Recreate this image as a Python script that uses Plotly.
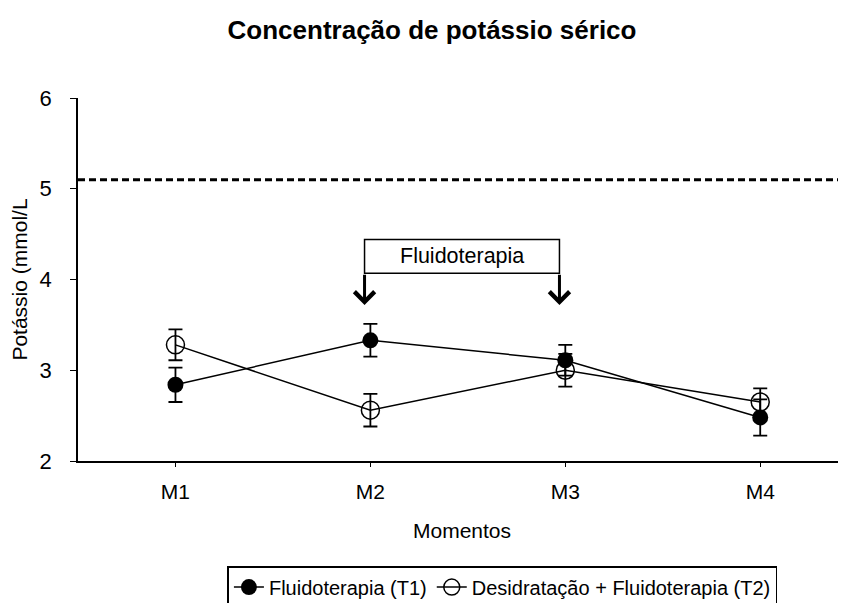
import plotly.graph_objects as go

momentos = ["M1", "M2", "M3", "M4"]

t1_mean = [2.84, 3.33, 3.11, 2.48]
t1_err = [0.19, 0.18, 0.17, 0.20]

t2_mean = [3.28, 2.56, 3.00, 2.65]
t2_err = [0.17, 0.18, 0.18, 0.15]

ref_upper = 5.1

font_ = "Liberation Sans, Arial, sans-serif"

fig = go.Figure()

fig.add_trace(go.Scatter(
    x=momentos, y=t1_mean, mode="lines+markers",
    name="Fluidoterapia (T1)",
    line=dict(color="black", width=1.5),
    marker=dict(symbol="circle", size=16, color="black"),
    error_y=dict(type="data", array=t1_err, color="black", thickness=1.8, width=7),
))

fig.add_trace(go.Scatter(
    x=momentos, y=t2_mean, mode="lines+markers",
    name="Desidratação + Fluidoterapia (T2)",
    line=dict(color="black", width=1.5),
    marker=dict(symbol="circle-open", size=18, color="black", line=dict(width=1.5)),
    error_y=dict(type="data", array=t2_err, color="black", thickness=1.8, width=7),
))

# linha de referencia
fig.add_shape(type="line", xref="paper", yref="y", x0=0, x1=1, y0=ref_upper, y1=ref_upper,
              line=dict(color="black", width=3, dash="7px,4px"))

# caixa Fluidoterapia com setas
fig.add_shape(type="rect", xref="x", yref="y", x0=0.97, x1=1.97, y0=4.07, y1=4.44,
              line=dict(color="black", width=1.5), fillcolor="white", layer="above")
fig.add_annotation(x=1.47, y=4.255, xref="x", yref="y", text="Fluidoterapia", showarrow=False,
                   font=dict(family=font_, size=21.5, color="black"))
for xa in [0.97, 1.97]:
    fig.add_annotation(x=xa, y=3.72, xref="x", yref="y", ax=xa, ay=4.07, axref="x", ayref="y",
                       text="", showarrow=True, arrowhead=4, arrowsize=1.3, arrowwidth=3,
                       arrowcolor="black")

fig.update_layout(
    width=838, height=595,
    title=dict(text="<b>Concentração de potássio sérico</b>", x=0.506, xanchor="center",
               y=0.963, yanchor="middle", font=dict(family=font_, size=26, color="black")),
    font=dict(family=font_, size=21, color="black"),
    plot_bgcolor="white", paper_bgcolor="white",
    margin=dict(l=70, r=0, t=90, b=142),
    xaxis=dict(
        range=[-0.5, 3.44], showline=True, linecolor="black", linewidth=1.5,
        ticks="outside", ticklen=4, tickcolor="black", showgrid=False,
        ticklabelstandoff=7,
        title=dict(text="Momentos", font=dict(size=21), standoff=21),
        tickfont=dict(size=21),
    ),
    yaxis=dict(
        range=[2, 6], dtick=1, showline=True, linecolor="black", linewidth=1.5,
        ticks="outside", ticklen=6, tickcolor="black", showgrid=False, zeroline=False,
        ticklabelstandoff=14,
        title=dict(text="Potássio (mmol/L", font=dict(size=21), standoff=8),
        tickfont=dict(size=22),
    ),
    showlegend=True,
    legend=dict(orientation="h", xref="container", yref="container",
                x=0.59, xanchor="center", y=0.062, yanchor="top",
                bordercolor="black", borderwidth=1.5, font=dict(size=20),
                itemwidth=30, tracegroupgap=0),
)

fig.write_html("out.html")
